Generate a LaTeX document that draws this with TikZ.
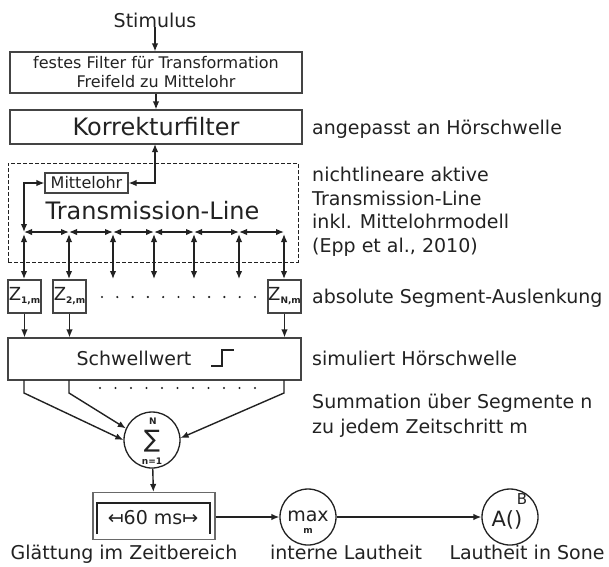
\documentclass[tikz,border=0pt]{standalone}
\usepackage{fontspec}
\setmainfont{DejaVu Sans}
\usetikzlibrary{arrows.meta}
\definecolor{ink}{HTML}{222222}
\definecolor{frame}{HTML}{444444}
\newcommand\fN{\fontsize{19}{23.7}\selectfont}
\newcommand\fB{\fontsize{24}{28}\selectfont}
\newcommand\fS{\fontsize{16}{19}\selectfont}
\newcommand\fT{\fontsize{9}{10}\selectfont\bfseries}
\begin{document}
\begin{tikzpicture}[x=1pt,y=-1pt,
  every node/.style={text=ink, inner sep=0pt},
  conn/.style={draw=ink, line width=1.4pt},
  arr/.style={conn, -{Latex[length=8pt,width=6.5pt]}},
  darr/.style={conn, {Latex[length=8pt,width=6.5pt]}-{Latex[length=8pt,width=6.5pt]}},
  box/.style={draw=frame, line width=1.1pt, rectangle},
  circ/.style={draw=ink, line width=1.3pt, circle, minimum size=56pt},
  lab/.style={anchor=base west, font=\fN},
  zbox/.style={box, minimum width=33pt, minimum height=33pt},
  dotmark/.style={fill=ink}]
\useasboundingbox (0,0) rectangle (609,566);
\fill[white] (0,0) rectangle (609,566);

% top chain
\node[anchor=base, font=\fN] (stim) at (155,27) {Stimulus};
\node[box, minimum width=292pt, minimum height=41pt, font=\fS, align=center] (fest) at (156,72.5)
  {festes Filter für Transformation\\Freifeld zu Mittelohr};
\node[box, minimum width=292pt, minimum height=34pt, font=\fB] (korr) at (156,127) {Korrekturfilter};
\draw[arr] (stim) -- (stim |- fest.north);
\draw[arr] (fest) -- (korr);
\node[lab] (l1) at (312,134) {angepasst an Hörschwelle};

% transmission line
\node[draw=ink, dashed, dash pattern=on 4pt off 2pt, line width=0.9pt, minimum width=290pt, minimum height=99pt] (tlbox) at (153,212.5) {};
\node[box, minimum width=83pt, minimum height=20pt, font=\fS] (mo) at (86.5,183) {Mittelohr};
\node[font=\fB, anchor=base] (tl) at (152.5,219) {Transmission-Line};
\foreach \n/\x in {1/24,2/69,3/113,4/154,5/194,6/239,7/284}{
  \coordinate (j\n) at (\x,232);
  \coordinate (v\n) at (\x,234);
  \coordinate (b\n) at (\x,279);
}
\draw[darr] (mo.west) -| (j1);
\draw[darr] (mo.east) -| (155,144);
\foreach \a/\b in {1/2,2/3,3/4,4/5,5/6,6/7}{ \draw[darr] (j\a) -- (j\b); }
\foreach \n in {1,...,7}{ \draw[darr] (v\n) -- (b\n); }
\node[lab] (l2) at (312,181) {nichtlineare aktive};
\node[lab] (l3) at (312,205) {Transmission-Line};
\node[lab] (l4) at (312,228.5) {inkl. Mittelohrmodell};
\node[lab] (l5) at (312,252) {(Epp et al., 2010)};

% Z boxes
\node[zbox] (z1) at (24.5,296.5) {\fontsize{18}{18}\selectfont Z\raisebox{-3pt}{\fT 1,m}};
\node[zbox] (z2) at (69.5,296.5) {\fontsize{18}{18}\selectfont Z\raisebox{-3pt}{\fT 2,m}};
\node[zbox] (zn) at (284.5,296.5) {\fontsize{18}{18}\selectfont Z\raisebox{-3pt}{\fT N,m}};
\foreach \i in {0,...,10}{ \fill[dotmark] (102+\i*15.3,297) circle (1.2); }
\node[lab] (l6) at (312,303.5) {absolute Segment-Auslenkung};

% threshold
\node[box, minimum width=293pt, minimum height=42pt] (sw) at (154.5,359) {};
\node[font=\fN, anchor=base] (swt) at (134,365.5) {Schwellwert};
\draw[ink, line width=1.7pt] (211,366) -- (222,366) -- (222,350) -- (234,350);
\draw[arr] (z1) -- (z1 |- sw.north);
\draw[arr] (z2) -- (z2 |- sw.north);
\draw[arr] (zn) -- (zn |- sw.north);
\node[lab] (l7) at (312,365) {simuliert Hörschwelle};

% summation
\node[circ] (sum) at (152,440) {};
\node[font=\fontsize{24}{24}\selectfont] (sig) at (152,441) {∑};
\node[font=\fT] (sN) at (153,421) {N};
\node[font=\fT] (s1) at (152,461) {n=1};
\draw[arr] (24,380) -- (24,393) -- (sum.180);
\draw[arr] (69,380) -- (69,393) -- (sum.156);
\draw[arr] (284,380) -- (284,393) -- (sum.4);
\foreach \i in {0,...,10}{ \fill[dotmark] (100+\i*15.5,388) circle (1.2); }
\node[lab] (l8) at (312,408) {Summation über Segmente n};
\node[lab] (l9) at (312,433) {zu jedem Zeitschritt m};

% bottom chain
\node[box, minimum width=122pt, minimum height=47pt, draw=frame!80] (sm) at (154,516) {};
\draw[ink, line width=2.2pt] (97,534) -- (97,503) -- (210,503) -- (210,534);
\node[font=\fN] (smt) at (153,518) {↤60 ms↦};
\draw[arr] (sum) -- (sm);
\node[circ] (mx) at (308,517) {};
\node[font=\fN, anchor=base] (mxt) at (308,521) {max};
\node[font=\fT] (mxm) at (308,531) {m};
\node[circ] (ab) at (510,517) {};
\node[font=\fontsize{21}{21}\selectfont] (abt) at (507,520) {A()};
\node[font=\fontsize{15}{15}\selectfont] (abb) at (522,499) {B};
\draw[arr] (sm.east |- mx.west) -- (mx.west);
\draw[arr] (mx) -- (ab);
\node[font=\fN, anchor=base] (g1) at (124,559) {Glättung im Zeitbereich};
\node[font=\fN, anchor=base] (g2) at (346,559) {interne Lautheit};
\node[font=\fN, anchor=base] (g3) at (527,559) {Lautheit in Sone};
\end{tikzpicture}
\end{document}
